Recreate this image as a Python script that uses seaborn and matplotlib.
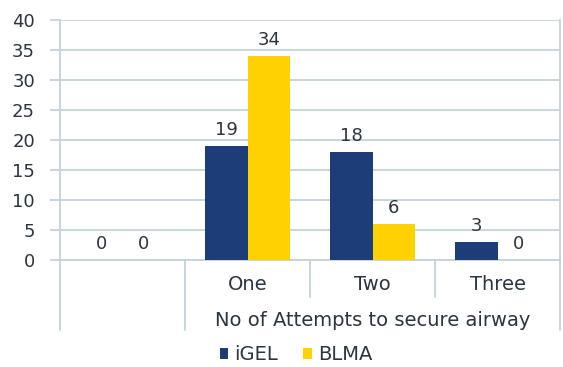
import matplotlib
matplotlib.use("Agg")
import matplotlib.pyplot as plt
import matplotlib.transforms as mtransforms
from matplotlib.patches import Patch
import seaborn as sns
import pandas as pd

categories = [" ", "One", "Two", "Three"]
igel = [0, 19, 18, 3]
blma = [0, 34, 6, 0]
series_names = ["iGEL", "BLMA"]
group_label = "No of Attempts to secure airway"
yticks = [0, 5, 10, 15, 20, 25, 30, 35, 40]

df = pd.DataFrame({
    "cat": categories * 2,
    "val": igel + blma,
    "series": [series_names[0]] * len(categories) + [series_names[1]] * len(categories),
})

sns.set_theme(style="white")
plt.rcParams["font.family"] = ["DejaVu Sans"]

FS = 13
FS_TXT = 14
TXT = "#2a3540"
GRID = "#c5d2db"
colors = {"iGEL": "#1c3d78", "BLMA": "#ffd200"}

fig = plt.figure(figsize=(5.63, 3.67), dpi=100)
ax = fig.add_axes([60 / 563, (367 - 260) / 367, 500 / 563, 240 / 367])

sns.barplot(data=df, x="cat", y="val", hue="series", order=categories,
            hue_order=series_names, palette=colors, saturation=1,
            width=0.68, ax=ax, legend=False, zorder=3, linewidth=0, edgecolor="none")

for cont in ax.containers:
    ax.bar_label(cont, labels=[f"{int(v)}" for v in cont.datavalues],
                 padding=5, fontsize=FS, color=TXT)

ax.set_ylim(0, 40)
ax.set_xlim(-0.5, len(categories) - 0.5)
ax.set_yticks(yticks)
ax.set_yticklabels([str(t) for t in yticks], fontsize=FS, color=TXT)
ax.yaxis.grid(True, color=GRID, linewidth=1.3, zorder=0)
ax.set_axisbelow(True)
ax.tick_params(axis="y", length=7, color=GRID, width=1.3, pad=11, left=True)
ax.set_xticks([])
ax.set_xlabel("")
ax.set_ylabel("")
for side in ["left", "bottom", "right"]:
    ax.spines[side].set_color(GRID)
    ax.spines[side].set_linewidth(1.3)
ax.spines["top"].set_visible(False)

# multi-level category axis
trans = mtransforms.blended_transform_factory(ax.transData, ax.transAxes)
px = 1 / 240.0
for i, c in enumerate(categories):
    if c.strip():
        ax.text(i, -24 * px, c, transform=trans, ha="center", va="center",
                fontsize=FS_TXT, color=TXT, clip_on=False)
for xb in [1.5, 2.5]:
    ax.plot([xb, xb], [0, -37 * px], transform=trans, color=GRID, lw=1.3, clip_on=False)
for xb in [-0.5, 0.5, 3.5]:
    ax.plot([xb, xb], [0, -70 * px], transform=trans, color=GRID, lw=1.3, clip_on=False)
ax.text(2, -60 * px, group_label, transform=trans, ha="center", va="center",
        fontsize=FS_TXT, color=TXT, clip_on=False)

handles = [Patch(facecolor=colors[s], edgecolor="none", label=s) for s in series_names]
fig.legend(handles=handles, loc="center", bbox_to_anchor=(296 / 563, 1 - 355 / 367),
           ncol=2, frameon=False, fontsize=FS_TXT, handlelength=0.45, handleheight=0.45,
           handletextpad=0.3, columnspacing=1.3, labelcolor=TXT)

fig.savefig("out.png", dpi=100)
